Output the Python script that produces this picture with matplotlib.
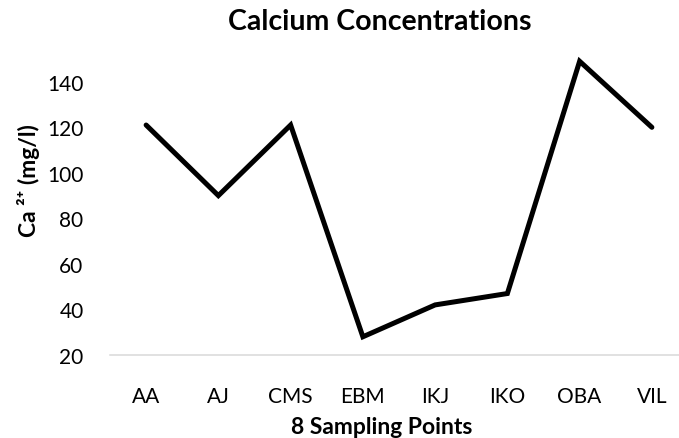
import matplotlib
matplotlib.use("Agg")
from matplotlib import pyplot as plt

# data
sites = ['AA', 'AJ', 'CMS', 'EBM', 'IKJ', 'IKO', 'OBA', 'VIL']
calcium = [121, 90, 121, 28, 42, 47, 149, 120]
yticks = [20, 40, 60, 80, 100, 120, 140]

plt.rcParams['font.family'] = ['Lato', 'DejaVu Sans']

fig = plt.figure(figsize=(6.79, 4.39), dpi=100)
ax = fig.add_axes([110/679, 83/439, 578/679, 296/439])

ax.plot(range(len(sites)), calcium, color='black', linewidth=3.6,
        solid_joinstyle='miter', solid_capstyle='round', clip_on=False)

ax.set_xlim(-0.5, len(sites) - 0.5)
ax.set_ylim(20, 150)
ax.set_yticks(yticks)
ax.set_xticks(range(len(sites)))
ax.set_xticklabels(sites)

for s in ['top', 'right', 'left']:
    ax.spines[s].set_visible(False)
ax.spines['bottom'].set_color('#d9d9d9')
ax.spines['bottom'].set_linewidth(1.1)

ax.tick_params(axis='both', length=0, labelsize=15, colors='black')
ax.tick_params(axis='x', pad=22)
ax.tick_params(axis='y', pad=19)

fig.text(380/679, 1 - 22/439, 'Calcium Concentrations', ha='center', va='center',
         fontsize=20.5, fontweight='bold')
fig.text(382/679, 1 - 428/439, '8 Sampling Points', ha='center', va='center',
         fontsize=16.5, fontweight='bold')
fig.text(28/679, 1 - 181/439, 'Ca ²⁺ (mg/l)', ha='center', va='center',
         rotation=90, fontsize=16.5, fontweight='bold')

fig.savefig('out.png', dpi=100)
